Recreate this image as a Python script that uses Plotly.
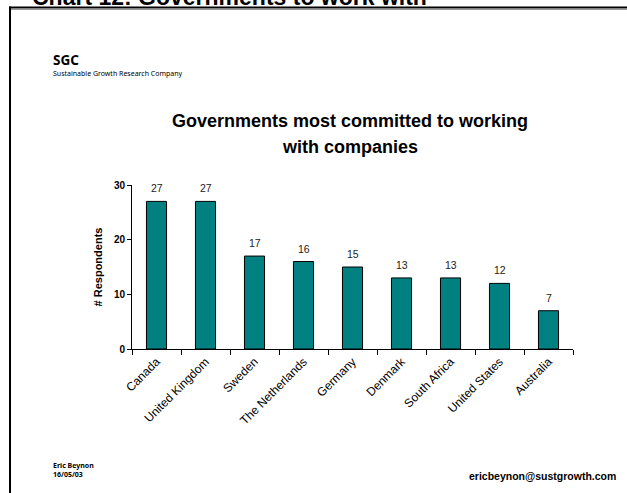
import plotly.graph_objects as go

# Survey results: governments most committed to working with companies
countries = ["Canada", "United Kingdom", "Sweden", "The Netherlands", "Germany",
             "Denmark", "South Africa", "United States", "Australia"]
respondents = [27, 27, 17, 16, 15, 13, 13, 12, 7]
y_ticks = [0, 10, 20, 30]

W, H = 627, 493
# plot area in pixels
PL, PR, PT, PB = 132, 573, 185, 349

def fx(x):
    return (x - PL) / (PR - PL)

def fy(y):
    return (PB - y) / (PB - PT)

SANS = "Liberation Sans, Arial, sans-serif"
SLIDE = "Noto Sans, Tahoma, sans-serif"

fig = go.Figure()
fig.add_trace(go.Bar(
    x=countries,
    y=respondents,
    width=0.41,
    marker=dict(color="#008080", line=dict(color="#000000", width=1)),
    hoverinfo="x+y",
))

annotations = []
# value labels above each bar
for c, v in zip(countries, respondents):
    annotations.append(dict(
        x=c, y=v, xref="x", yref="y", text=str(v), showarrow=False,
        yanchor="bottom", yshift=5,
        font=dict(family=SANS, size=10.5, color="#222222"),
    ))

def label(text, x, y, size, family=SANS, bold=True, xanchor="left", pad=1):
    t = f"<b>{text}</b>" if bold else text
    annotations.append(dict(
        x=fx(x), y=fy(y), xref="paper", yref="paper", text=t, showarrow=False,
        xanchor=xanchor, yanchor="middle", borderpad=pad,
        align=xanchor if xanchor != "center" else "center",
        font=dict(family=family, size=size, color="#000000"),
    ))

label("Chart 12: Governments to work with", 30, -3, 23)
label("SGC", 52, 59.5, 13.5, family=SLIDE, pad=0)
label("Sustainable Growth Research Company", 52, 73.5, 7, family=SLIDE, bold=False, pad=0)
label("Governments most committed to working", 350, 121, 18, xanchor="center")
label("with companies", 350, 147, 18, xanchor="center")
label("Eric Beynon<br>16/05/03", 52, 469.5, 7, family=SLIDE, pad=0)
label("ericbeynon@sustgrowth.com", 618, 476, 10.5, xanchor="right")

# slide frame
shapes = [
    dict(type="line", xref="paper", yref="paper",
         x0=fx(9), x1=fx(W + 5), y0=fy(7.5), y1=fy(7.5),
         line=dict(color="#000000", width=2)),
    dict(type="line", xref="paper", yref="paper",
         x0=fx(11), x1=fx(W + 5), y0=fy(9.5), y1=fy(9.5),
         line=dict(color="#999999", width=1)),
    dict(type="line", xref="paper", yref="paper",
         x0=fx(10), x1=fx(10), y0=fy(6.5), y1=fy(H + 5),
         line=dict(color="#000000", width=2)),
]

fig.update_layout(
    width=W, height=H, autosize=False,
    margin=dict(l=PL, r=W - PR, t=PT, b=H - PB, pad=0),
    paper_bgcolor="#ffffff", plot_bgcolor="#ffffff",
    showlegend=False,
    annotations=annotations,
    shapes=shapes,
)
fig.update_xaxes(
    showline=True, linecolor="#000000", linewidth=1,
    ticks="outside", tickson="boundaries", ticklen=5, tickcolor="#000000",
    tickangle=-45, showgrid=False,
    tickfont=dict(family=SANS, size=12, color="#000000"),
)
fig.update_yaxes(
    range=[0, 30], tickvals=y_ticks, ticktext=[f"<b>{t}</b>" for t in y_ticks],
    showline=True, linecolor="#000000", linewidth=1,
    ticks="outside", ticklen=4, tickcolor="#000000", showgrid=False, zeroline=False,
    tickfont=dict(family=SANS, size=10, color="#000000"),
    title=dict(text="<b># Respondents</b>", font=dict(family=SANS, size=11, color="#000000"), standoff=9),
)

fig.write_html("out.html")
